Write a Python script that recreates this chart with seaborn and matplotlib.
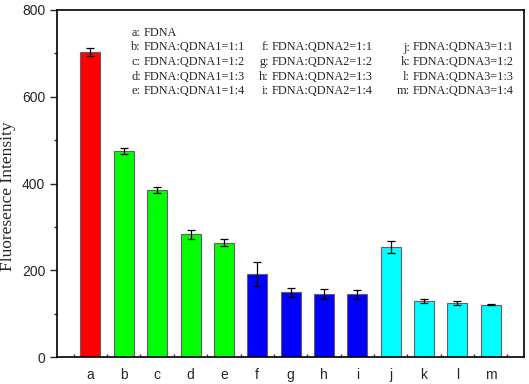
import numpy as np
import pandas as pd
import seaborn as sns
import matplotlib.pyplot as plt
from matplotlib.ticker import MultipleLocator

# bar values
samples = ['a', 'b', 'c', 'd', 'e', 'f', 'g', 'h', 'i', 'j', 'k', 'l', 'm']
intensity = [703, 474, 386, 283, 264, 192, 149, 145, 145, 254, 130, 125, 121]
errors = [10, 7, 7, 11, 8, 28, 10, 11, 10, 14, 5, 5, 1]
groups = ['FDNA', 'QDNA1', 'QDNA1', 'QDNA1', 'QDNA1',
          'QDNA2', 'QDNA2', 'QDNA2', 'QDNA2',
          'QDNA3', 'QDNA3', 'QDNA3', 'QDNA3']
group_colors = {'FDNA': '#ff0000', 'QDNA1': '#00ff00',
                'QDNA2': '#0000ff', 'QDNA3': '#00ffff'}
legend_lines = ['a: FDNA',
                'b: FDNA:QDNA1=1:1', 'c: FDNA:QDNA1=1:2', 'd: FDNA:QDNA1=1:3', 'e: FDNA:QDNA1=1:4',
                'f: FDNA:QDNA2=1:1', 'g: FDNA:QDNA2=1:2', 'h: FDNA:QDNA2=1:3', 'i: FDNA:QDNA2=1:4',
                'j: FDNA:QDNA3=1:1', 'k: FDNA:QDNA3=1:2', 'l: FDNA:QDNA3=1:3', 'm: FDNA:QDNA3=1:4']

df = pd.DataFrame({'sample': samples, 'intensity': intensity, 'group': groups})

sns.set_style('ticks')
plt.rcParams['font.family'] = ['Liberation Sans', 'DejaVu Sans']

fig = plt.figure(figsize=(5.29, 3.84), dpi=100)
ax = fig.add_axes([0.108, 0.07, 0.8825, 0.904])

sns.barplot(data=df, x='sample', y='intensity', hue='group', palette=group_colors,
            dodge=False, width=0.6, saturation=1, edgecolor='#6a5a6a', linewidth=0.8,
            legend=False, ax=ax)
ax.errorbar(np.arange(len(samples)), intensity, yerr=errors, fmt='none',
            ecolor='black', elinewidth=0.9, capsize=3, capthick=0.9)

ax.set_xlim(-1, 13)
ax.set_ylim(0, 800)
ax.yaxis.set_major_locator(MultipleLocator(200))
ax.yaxis.set_minor_locator(MultipleLocator(100))
ax.set_xticks(range(len(samples)))
ax.set_xticks(np.arange(-0.5, 13, 1), minor=True)
ax.tick_params(axis='x', which='major', direction='in', length=5, width=1, labelsize=10, pad=8)
ax.tick_params(axis='x', which='minor', direction='in', length=2.5, width=1)
ax.tick_params(axis='y', which='major', direction='out', length=5, width=1, labelsize=10)
ax.tick_params(axis='y', which='minor', direction='out', length=2.5, width=1)
for s in ax.spines.values():
    s.set_linewidth(1.2)
    s.set_color('black')

ax.set_xlabel('')
ax.set_ylabel('Fluoresence Intensity', family='Liberation Serif', fontsize=12.5, labelpad=4)
ax.yaxis.set_label_coords(-0.088, 0.465)

# annotation text block, three columns
col_x = [(144, 0, 5), (272, 5, 9), (413, 9, 13)]
row_y = [33, 47.5, 62, 76.5, 91]
for x0, i0, i1 in col_x:
    start_row = 0 if i0 == 0 else 1
    for r, idx in enumerate(range(i0, i1)):
        prefix, rest = legend_lines[idx].split(': ')
        y = row_y[r + start_row] / 384
        fig.text((x0 - 3) / 529, 1 - y, prefix + ':', ha='right', va='center',
                 family='Liberation Serif', fontsize=8.8)
        fig.text(x0 / 529, 1 - y, rest, ha='left', va='center',
                 family='Liberation Serif', fontsize=8.8)

fig.savefig('out.png', dpi=100)
